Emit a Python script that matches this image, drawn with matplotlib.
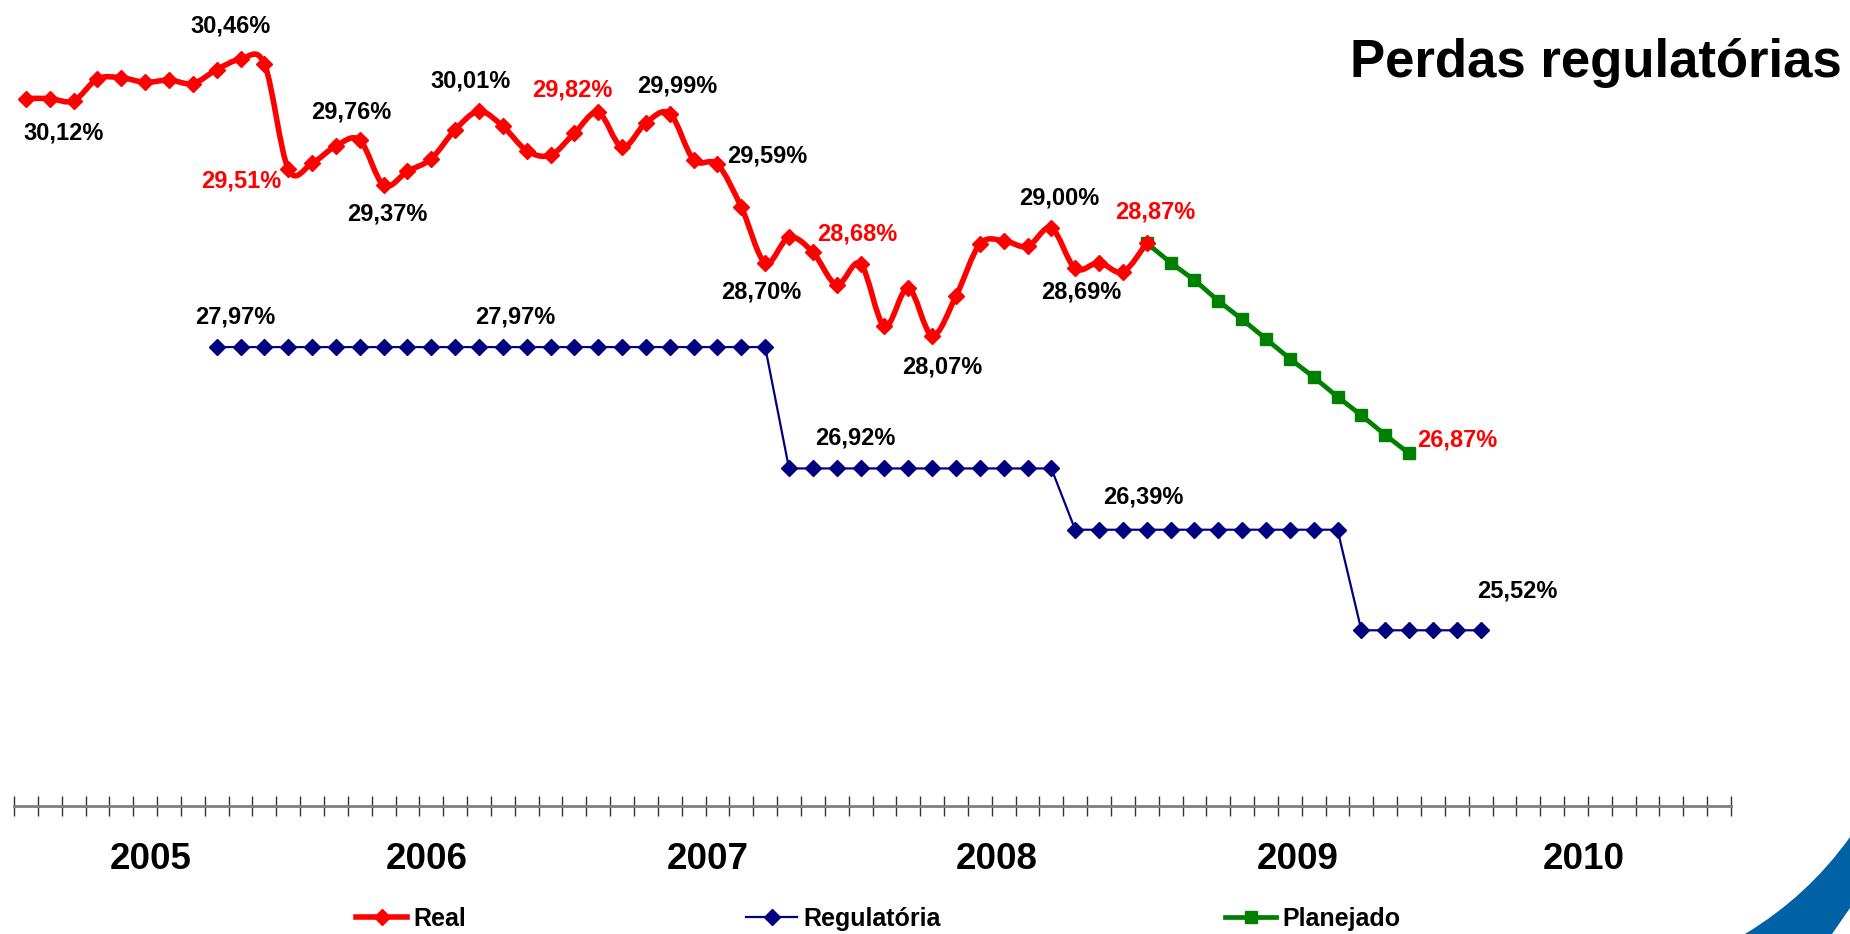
import numpy as np
import matplotlib
matplotlib.use('Agg')
import matplotlib.pyplot as plt
from matplotlib.path import Path
from matplotlib.patches import PathPatch
from matplotlib.lines import Line2D

# monthly values, Jan 2005 = index 0
real = [30.12, 30.12, 30.10, 30.29, 30.30, 30.26, 30.28, 30.25, 30.37, 30.46, 30.42, 29.51,
        29.56, 29.71, 29.76, 29.37, 29.49, 29.60, 29.85, 30.01, 29.88, 29.67, 29.63, 29.82,
        30.00, 29.70, 29.91, 29.99, 29.59, 29.55, 29.18, 28.70, 28.92, 28.79, 28.51, 28.69,
        28.15, 28.48, 28.07, 28.41, 28.86, 28.89, 28.84, 29.00, 28.65, 28.70, 28.62, 28.87]
real_start = 0

planned = [28.87, 28.70, 28.55, 28.37, 28.21, 28.04, 27.87, 27.71, 27.54, 27.38, 27.21, 27.05]
planned_start = 47

reg_levels = [27.97, 26.92, 26.39, 25.52]
reg_months = [24, 12, 12, 6]
reg_start = 8

years = ['2005', '2006', '2007', '2008', '2009', '2010']
n_months = 72

# (text, x, y, colour) value labels
point_labels = [
    ('30,12%', 1.60, 29.82, 'black'), ('30,46%', 8.60, 30.75, 'black'),
    ('29,51%', 9.02, 29.41, 'red'), ('29,76%', 13.63, 30.00, 'black'),
    ('29,37%', 15.14, 29.12, 'black'), ('30,01%', 18.66, 30.27, 'black'),
    ('29,82%', 22.90, 30.19, 'red'), ('29,99%', 27.30, 30.23, 'black'),
    ('29,59%', 31.07, 29.62, 'black'), ('28,68%', 34.85, 28.95, 'red'),
    ('28,70%', 30.82, 28.45, 'black'), ('29,00%', 43.32, 29.26, 'black'),
    ('28,87%', 47.34, 29.14, 'red'), ('28,69%', 44.24, 28.45, 'black'),
    ('28,07%', 38.41, 27.80, 'black'), ('27,97%', 8.77, 28.23, 'black'),
    ('27,97%', 20.51, 28.23, 'black'), ('26,92%', 34.80, 27.18, 'black'),
    ('26,39%', 46.84, 26.67, 'black'), ('25,52%', 62.52, 25.86, 'black'),
    ('26,87%', 60.00, 27.17, 'red'),
]
year_x = [5.24, 16.82, 28.60, 40.72, 53.34, 65.33]

RED = '#FF0000'
NAVY = '#000080'
GREEN = '#008000'

plt.rcParams['font.family'] = ['Liberation Sans', 'DejaVu Sans']


def smooth_path(x, y):
    # excel-like smoothed line as bezier segments through the points
    pts = np.column_stack([x, y]).astype(float)
    n = len(pts)
    verts = [pts[0]]
    codes = [Path.MOVETO]
    for i in range(n - 1):
        p0 = pts[max(i - 1, 0)]
        p1 = pts[i]
        p2 = pts[i + 1]
        p3 = pts[min(i + 2, n - 1)]
        verts += [p1 + (p2 - p0) / 6, p2 - (p3 - p1) / 6, p2]
        codes += [Path.CURVE4] * 3
    return Path(verts, codes)


W, H = 1850, 934
fig = plt.figure(figsize=(W / 100, H / 100), dpi=100)
ax = fig.add_axes([14 / W, 128 / H, 1717 / W, 806 / H])

real_x = np.arange(real_start, real_start + len(real))
planned_x = np.arange(planned_start, planned_start + len(planned))
reg = np.repeat(reg_levels, reg_months)
reg_x = np.arange(reg_start, reg_start + len(reg))

ax.plot(reg_x, reg, color=NAVY, lw=1.6, marker='D', ms=8.5, zorder=2)
ax.plot(planned_x, planned, color=GREEN, lw=3.4, marker='s', ms=9, zorder=3)
ax.add_patch(PathPatch(smooth_path(real_x, real), fill=False, edgecolor=RED,
                       lw=4.0, joinstyle='round', zorder=4))
ax.plot(real_x, real, ls='none', marker='D', ms=8.5, color=RED, zorder=5)

for txt, x, y, c in point_labels:
    ax.text(x, y, txt, color=c, fontsize=17, fontweight='bold', ha='center', va='center')

for yr, x in zip(years, year_x):
    ax.text(x, 23.54, yr, fontsize=26.5, fontweight='bold', ha='center', va='center', clip_on=False)

ax.set_xlim(-0.5, n_months - 0.5)
ax.set_ylim(24.0, 24.0 + 806 / 115.6)
ax.set_xticks(np.arange(-0.5, n_months, 1))
ax.set_xticklabels([])
ax.set_yticks([])
ax.tick_params(axis='x', direction='inout', length=14, width=1, color='#333333')
for s in ['top', 'left', 'right']:
    ax.spines[s].set_visible(False)
ax.spines['bottom'].set_color('#7f7f7f')
ax.spines['bottom'].set_linewidth(2)

fig.text(1842 / W, 857 / H, 'Perdas regulatórias', ha='right', va='baseline',
         fontsize=38, fontweight='bold')

handles = [
    ('Real', Line2D([], [], color=RED, lw=4.0, marker='D', ms=8.5), 356),
    ('Regulatória', Line2D([], [], color=NAVY, lw=1.6, marker='D', ms=8.5), 746),
    ('Planejado', Line2D([], [], color=GREEN, lw=3.4, marker='s', ms=9), 1225),
]
for name, h, xl in handles:
    fig.legend(handles=[h], labels=[name], loc='center left', bbox_to_anchor=(xl / W, 15 / H),
               frameon=False, borderpad=0, borderaxespad=0, handlelength=2.05,
               handletextpad=0.25, prop={'size': 18, 'weight': 'bold'})

# blue swoosh band in the corner of the slide
swoosh = Path([(1745 / W, 0), (1808 / W, 38 / H), (1.0, 97 / H), (1.0, 26 / H),
               (1832 / W, 0), (1745 / W, 0)],
              [Path.MOVETO, Path.CURVE3, Path.CURVE3, Path.LINETO, Path.LINETO, Path.CLOSEPOLY])
fig.patches.append(PathPatch(swoosh, transform=fig.transFigure, facecolor='#0062A5',
                             edgecolor='none'))

fig.savefig('out.png', dpi=100)
